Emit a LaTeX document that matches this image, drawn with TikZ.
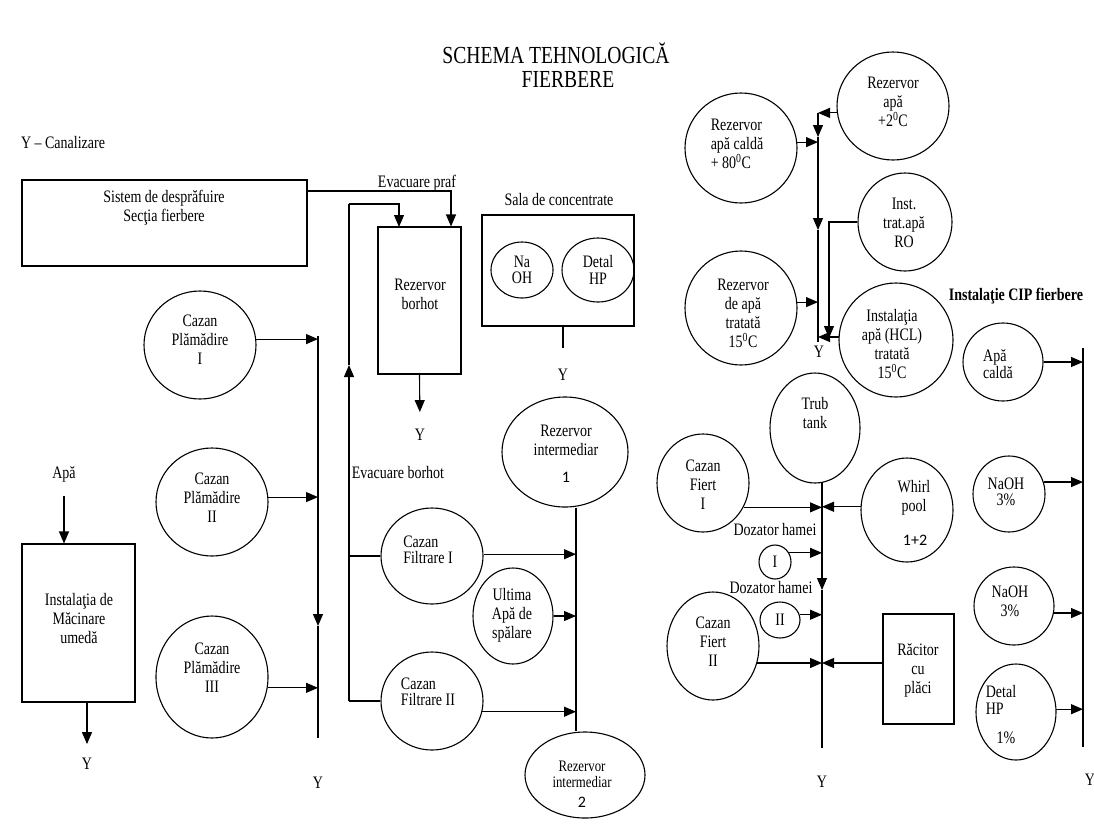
\documentclass[tikz,border=0pt]{standalone}
\usepackage{fontspec}
\setmainfont{Liberation Serif}[FakeStretch=0.8]
\newfontfamily\digfont{Carlito}
\usetikzlibrary{shapes.geometric,arrows.meta,calc}
\newcommand\fbody{\fontsize{17.5}{19}\selectfont}
\newcommand\fbodyt{\fontsize{17.5}{16.5}\selectfont}
\newcommand\fsmall{\fontsize{16}{15.5}\selectfont}
\newcommand\ftitle{\fontsize{24.5}{28}\selectfont}
\newcommand\fdig{\digfont\fontsize{16}{18}\selectfont}
\begin{document}
\begin{tikzpicture}[x=1pt,y=-1pt,
  every node/.style={inner sep=0pt},
  tank/.style={ellipse,draw,line width=1.1pt},
  box/.style={rectangle,draw,line width=1.1pt},
  txt/.style={align=center,font=\fbody},
  ln/.style={line width=1.1pt},
  arr/.style={line width=1.1pt,-{Triangle[length=12pt,width=10pt]}}]
\useasboundingbox[fill=white] (0,0) rectangle (1094,828);

% title and legend
\node[txt,font=\ftitle] (t1) at (556,53) {SCHEMA TEHNOLOGICĂ};
\node[txt,font=\ftitle] (t2) at (568,80) {FIERBERE};
\node[txt] (leg) at (63,143) {Y – Canalizare};

% dust system and spent grain tank
\node[box,minimum width=285,minimum height=86] (sys) at (164.5,223) {};
\node[txt] (syst) at (164,207.5) {Sistem de desprăfuire\\Secţia fierbere};
\node[txt] (evp) at (417,183) {Evacuare praf};
\node[box,minimum width=83,minimum height=147] (rb) at (419.5,300.5) {};
\node[txt] (rbt) at (420,294) {Rezervor\\borhot};
\node[txt] (yrb) at (420,435) {Y};
\node[txt] (evb) at (398,473) {Evacuare borhot};

% concentrate room
\node[txt] (sala) at (559,200) {Sala de concentrate};
\node[box,minimum width=152,minimum height=111] (sb) at (558,270.5) {};
\node[tank,txt,font=\fbodyt,minimum width=62,minimum height=56] (naoh) at (522,270) {Na\\OH};
\node[tank,txt,font=\fbodyt,minimum width=72,minimum height=64] (dhp) at (598,270) {Detal\\HP};
\node[txt] (ysb) at (563,375) {Y};

% intermediate tanks and lauter tuns
\node[tank,minimum width=126,minimum height=110] (r1) at (565,452) {};
\node[txt] (r1t) at (566,440) {Rezervor\\intermediar};
\node[font=\fdig] (r1n) at (566,477) {1};
\node[tank,minimum width=102,minimum height=96] (f1) at (432,556) {};
\node[txt,align=left,font=\fbodyt] (f1t) at (428,550) {Cazan\\Filtrare I};
\node[tank,minimum width=80,minimum height=96] (ult) at (513,616) {};
\node[txt] (ultt) at (512,615) {Ultima\\Apă de\\spălare};
\node[tank,minimum width=102,minimum height=98] (f2) at (432,701) {};
\node[txt,align=left,font=\fbodyt] (f2t) at (428,692) {Cazan\\Filtrare II};
\node[tank,minimum width=120,minimum height=86] (r2) at (585,775) {};
\node[txt,font=\fsmall] (r2t) at (582,774.5) {Rezervor\\intermediar};
\node[font=\fdig] (r2n) at (582,802) {2};

% mashing
\node[tank,minimum width=112,minimum height=108] (p1) at (200,345) {};
\node[txt] (p1t) at (200,340) {Cazan\\Plămădire\\I};
\node[tank,minimum width=112,minimum height=108] (p2) at (212,502) {};
\node[txt] (p2t) at (212,498) {Cazan\\Plămădire\\II};
\node[tank,minimum width=112,minimum height=122] (p3) at (212,677) {};
\node[txt] (p3t) at (212,668) {Cazan\\Plămădire\\III};
\node[txt] (yp) at (318,783) {Y};
\node[txt] (apa) at (64,474) {Apă};
\node[box,minimum width=113,minimum height=158] (mac) at (78.5,623) {};
\node[txt] (mact) at (79,619) {Instalaţia de\\Măcinare\\umedă};
\node[txt] (ymac) at (87,764) {Y};

% water supply
\node[tank,minimum width=112,minimum height=108] (w2) at (893,106) {};
\node[txt] (w2t) at (893,102) {Rezervor\\apă\\+2\textsuperscript{0}C};
\node[tank,minimum width=112,minimum height=110] (h80) at (741,148) {};
\node[txt,align=left] (h80t) at (737,144) {Rezervor\\apă caldă\\+ 80\textsuperscript{0}C};
\node[tank,minimum width=94,minimum height=98] (ro) at (905,222) {};
\node[txt] (rot) at (904,223) {Inst.\\trat.apă\\RO};
\node[tank,minimum width=112,minimum height=114] (rt) at (741,308) {};
\node[txt] (rtt) at (743,313.5) {Rezervor\\de apă\\tratată\\15\textsuperscript{0}C};
\node[tank,minimum width=114,minimum height=114] (hcl) at (896,340) {};
\node[txt] (hclt) at (892,344) {Instalaţia\\apă (HCL)\\tratată\\15\textsuperscript{0}C};
\node[txt] (yt) at (819,352) {Y};

% boiling
\node[tank,minimum width=90,minimum height=110] (trub) at (815,428) {};
\node[txt] (trubt) at (815,413) {Trub\\tank};
\node[tank,minimum width=92,minimum height=98] (fi1) at (703,483) {};
\node[txt] (fi1t) at (703,485) {Cazan\\Fiert\\I};
\node[tank,minimum width=92,minimum height=104] (wp) at (907,510) {};
\node[txt] (wpt) at (914,498) {Whirl\\pool};
\node[font=\fdig] (wpn) at (915,540) {1+2};
\node[txt] (dz1) at (775,530) {Dozator hamei};
\node[tank,txt,minimum width=32,minimum height=34] (d1) at (775,562) {I};
\node[txt] (dz2) at (771,588) {Dozator hamei};
\node[tank,txt,minimum width=40,minimum height=36] (d2) at (780,620) {II};
\node[tank,minimum width=92,minimum height=108] (fi2) at (713,646) {};
\node[txt] (fi2t) at (713,642) {Cazan\\Fiert\\II};
\node[box,minimum width=71,minimum height=110] (rac) at (918.5,669) {};
\node[txt] (ract) at (918,670) {Răcitor\\cu\\plăci};
\node[txt] (yf) at (822,782) {Y};

% CIP
\node[txt,font=\bfseries\fbody] (cip) at (1016,296) {Instalaţie CIP fierbere};
\node[tank,minimum width=80,minimum height=78] (ac) at (1003,362) {};
\node[txt,align=left,font=\fbodyt] (act) at (998,364) {Apă\\caldă};
\node[tank,minimum width=72,minimum height=76] (n1) at (1009,494) {};
\node[txt,font=\fbodyt] (n1t) at (1006,492) {NaOH\\3\%};
\node[tank,minimum width=80,minimum height=78] (n2) at (1014,606) {};
\node[txt] (n2t) at (1010,601) {NaOH\\3\%};
\node[tank,minimum width=80,minimum height=96] (dh) at (1016,712) {};
\node[txt,align=left,font=\fbodyt] (dht) at (1001,700) {Detal\\HP};
\node[txt] (dhn) at (1006,738) {1\%};
\node[txt] (ycip) at (1090,780) {Y};

% ---------- connectors ----------
% dust and spent grain
\coordinate (ep) at (451,191);
\draw[arr] (sys.east |- ep) -- (ep) -- (ep |- rb.north);
\coordinate (ebTop) at (349,204);
\coordinate (ebArr) at (349,365);
\coordinate (ebBot) at (349,701);
\coordinate (rbIn) at (399,227);
\draw[arr] (ebTop) -| (rbIn);
\draw[arr] (ebBot) -- (ebArr);
\draw[ln] (ebArr) -- (ebTop);
\draw[ln] (ebBot |- f1.west) -- (f1.west);
\draw[ln] (ebBot) -- (f2.west);
\draw[arr,shorten >=17pt] (rb.south) -- (yrb.north);
\coordinate (sbY) at (563,348);
\draw[ln] (sb.south -| sbY) -- (sbY);

% lauter collector
\coordinate (fc) at (576,554);
\draw[ln] (r1.south -| fc) -- (r2.north -| fc);
\draw[arr] (f1.2) -- (f1.2 -| fc);
\draw[arr] (ult.east) -- (ult.east -| fc);
\draw[arr] (f2.-12) -- (f2.-12 -| fc);

% mashing collector
\coordinate (pTop) at (318,336);
\coordinate (pArr) at (318,626);
\coordinate (pBot) at (318,738);
\draw[arr] (pTop) -- (pArr);
\draw[ln] (pArr) -- (pBot);
\draw[arr] (p1.6) -- (p1.6 -| pTop);
\draw[arr] (p2.5) -- (p2.5 -| pTop);
\draw[arr] (p3.-11) -- (p3.-11 -| pTop);
\draw[arr] ($(apa.south)+(0,14)$) -- (apa.south |- mac.north);
\draw[arr,shorten >=14pt] (mac.south -| ymac) -- (ymac.north);

% water collector
\coordinate (tTop) at (818,113);
\coordinate (tA1) at (818,137);
\coordinate (tA2) at (818,230);
\coordinate (tBot) at (818,342);
\draw[arr] (w2.187) -- (w2.187 -| tTop);
\draw[arr] (tTop) -- (tA1);
\draw[arr] (tA1) -- (tA2);
\draw[ln] (tA2) -- (tBot);
\draw[arr] (h80.6) -- (h80.6 -| tTop);
\draw[arr] (rt.6) -- (rt.6 -| tTop);
\coordinate (roD) at (829,338);
\draw[arr] (ro.west) -| (roD);
\draw[arr] (hcl.177) -- (hcl.177 -| tTop);

% boiling collector
\coordinate (fTop) at (822,482);
\coordinate (fArr) at (822,590);
\coordinate (fBot) at (822,748);
\draw[arr] (fTop) -- (fArr);
\draw[ln] (fArr) -- (fBot);
\draw[arr] (fi1.-31) -- (fi1.-31 -| fTop);
\draw[arr] (wp.176) -- (wp.176 -| fTop);
\draw[arr] (d1.33) -- (d1.33 -| fTop);
\draw[arr] (d2.15) -- (d2.15 -| fTop);
\draw[arr] (fi2.-21) -- (fi2.-21 -| fTop);
\coordinate (racA) at ($(rac.west)+(0,-6)$);
\draw[arr] (racA) -- (racA -| fTop);

% CIP collector
\coordinate (cTop) at (1083,348);
\coordinate (cBot) at (1083,747);
\draw[ln] (cTop) -- (cBot);
\draw[arr] (ac.east) -- (ac.east -| cTop);
\draw[arr] (n1.19) -- (n1.19 -| cTop);
\draw[arr] (n2.-10) -- (n2.-10 -| cTop);
\draw[arr] (dh.4) -- (dh.4 -| cTop);
\end{tikzpicture}
\end{document}
